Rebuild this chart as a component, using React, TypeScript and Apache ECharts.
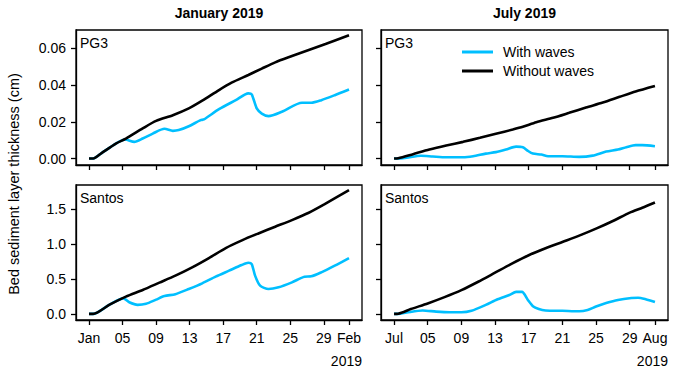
import React, { useEffect, useRef } from 'react';
import * as echarts from 'echarts';

// ---- tick definitions ----
const MONTH_TICK_DAYS = [0, 4, 8, 12, 16, 20, 24, 28, 31];
const JAN_TICK_LABELS = ['Jan', '05', '09', '13', '17', '21', '25', '29', 'Feb'];
const JUL_TICK_LABELS = ['Jul', '05', '09', '13', '17', '21', '25', '29', 'Aug'];
const YEAR_LABEL = '2019';
const COLUMN_TITLES = ['January 2019', 'July 2019'];
const SITE_NAMES = ['PG3', 'Santos'];
const SERIES_NAMES = ['With waves', 'Without waves'];
const PG3_TICKS = [0, 0.02, 0.04, 0.06];
const SANTOS_TICKS = [0, 0.5, 1.0, 1.5];
const Y_LABEL = 'Bed sediment layer thickness (cm)';

// ---- PG3, January ----
const PG3_JAN_WITHOUT_DAYS = [0, 0.5, 1.5, 3.2, 4.4, 6.4, 8, 10, 11.9, 13.5, 15.5, 17, 19, 20.6, 22.2, 24.2, 26.2, 28.2, 31];
const PG3_JAN_WITHOUT = [0, 0, 0.003, 0.0082, 0.0109, 0.0164, 0.0205, 0.0236, 0.0273, 0.0315, 0.0373, 0.0413, 0.0455, 0.049, 0.0524, 0.0558, 0.0591, 0.0624, 0.0671];
const PG3_JAN_WITH_DAYS = [0, 0.5, 1.5, 3.2, 4.3, 5.4, 6.4, 7.6, 9, 10, 10.7, 11.9, 13.3, 13.7, 15.5, 17.5, 19, 19.4, 20, 20.6, 21.4, 23, 25.4, 26.5, 27.7, 29.3, 31];
const PG3_JAN_WITH = [0, 0, 0.003, 0.0082, 0.0104, 0.0091, 0.0109, 0.0136, 0.0162, 0.0151, 0.0155, 0.0176, 0.0209, 0.0213, 0.0269, 0.0318, 0.0355, 0.035, 0.0273, 0.0245, 0.0231, 0.0255, 0.0304, 0.0304, 0.0318, 0.0345, 0.0376];

// ---- PG3, July ----
const PG3_JUL_WITHOUT_DAYS = [0, 0.5, 2.25, 4.2, 6.2, 8.2, 10.2, 12.1, 14.1, 15.3, 16.9, 18.9, 20.8, 22.8, 24.8, 26.8, 28.7, 31];
const PG3_JUL_WITHOUT = [0, 0.0002, 0.0024, 0.0049, 0.0071, 0.0091, 0.0113, 0.0135, 0.0158, 0.0173, 0.0198, 0.0222, 0.0249, 0.0278, 0.0305, 0.0336, 0.0365, 0.0395];
const PG3_JUL_WITH_DAYS = [0, 0.5, 1.5, 3.2, 4.6, 6.2, 8.2, 9.4, 10.9, 12.1, 13.3, 14.5, 15.3, 15.9, 16.5, 17.5, 18.3, 20, 22, 23.6, 25.2, 26.6, 27.6, 28.7, 29.5, 31];
const PG3_JUL_WITH = [0, 0, 0.0005, 0.0015, 0.0011, 0.0007, 0.0007, 0.0013, 0.0027, 0.0035, 0.0049, 0.0065, 0.0062, 0.0042, 0.0027, 0.0022, 0.0013, 0.0013, 0.0009, 0.0016, 0.0038, 0.0049, 0.0062, 0.0073, 0.0073, 0.0067];

// ---- Santos, January ----
const SANTOS_JAN_WITHOUT_DAYS = [0, 0.5, 2.45, 4.4, 6.4, 8.4, 10.3, 12.3, 14.3, 16.3, 18.3, 20.2, 22.2, 24.2, 26.2, 28.1, 31];
const SANTOS_JAN_WITHOUT = [0, 0, 0.133, 0.248, 0.343, 0.448, 0.548, 0.667, 0.8, 0.943, 1.057, 1.152, 1.248, 1.343, 1.448, 1.571, 1.771];
const SANTOS_JAN_WITH_DAYS = [0, 0.5, 2.45, 4.1, 4.8, 5.8, 6.8, 8, 9, 10.3, 11.9, 13.5, 15.1, 16.7, 18.2, 19, 19.4, 19.8, 20.4, 21.4, 22.6, 24.2, 25.7, 26.5, 27.7, 29.3, 31];
const SANTOS_JAN_WITH = [0, 0, 0.133, 0.222, 0.167, 0.13, 0.145, 0.205, 0.255, 0.283, 0.357, 0.438, 0.533, 0.619, 0.7, 0.733, 0.714, 0.548, 0.405, 0.357, 0.381, 0.452, 0.533, 0.538, 0.595, 0.69, 0.8];

// ---- Santos, July ----
const SANTOS_JUL_WITHOUT_DAYS = [0, 0.5, 2, 4, 6, 8, 10, 12, 14, 16, 18, 20, 22, 24, 26, 28, 29.5, 31];
const SANTOS_JUL_WITHOUT = [0, 0.003, 0.07, 0.15, 0.24, 0.34, 0.46, 0.59, 0.72, 0.84, 0.94, 1.03, 1.12, 1.22, 1.33, 1.45, 1.52, 1.595];
const SANTOS_JUL_WITH_DAYS = [0, 0.5, 1.5, 3.4, 5, 6.6, 8, 9.2, 10.9, 12.3, 13.7, 14.5, 15.2, 15.9, 16.5, 17.2, 18, 20, 22, 23, 24, 25.2, 26.6, 28.2, 29, 29.9, 31];
const SANTOS_JUL_WITH = [0, 0, 0.02, 0.05, 0.033, 0.024, 0.024, 0.045, 0.129, 0.21, 0.27, 0.315, 0.315, 0.2, 0.11, 0.07, 0.05, 0.045, 0.038, 0.057, 0.105, 0.155, 0.2, 0.228, 0.232, 0.21, 0.17];

const CYAN = '#00bfff';
const FONT = '"Liberation Sans", Arial, Helvetica, sans-serif';

const zip = (days: number[], vals: number[]) => days.map((d, i) => [d, vals[i]]);

export default function App() {
  const ref = useRef<HTMLDivElement>(null);

  useEffect(() => {
    if (!ref.current) return;
    const chart = echarts.init(ref.current, undefined, { renderer: 'svg' });

    const GW = [286, 287];
    const GL = [76, 381];
    const GT = [30, 185];
    const GH = 135;

    const grids: any[] = [];
    const xAxes: any[] = [];
    const yAxes: any[] = [];
    const series: any[] = [];
    const graphics: any[] = [];

    const panelData = [
      [zip(PG3_JAN_WITH_DAYS, PG3_JAN_WITH), zip(PG3_JAN_WITHOUT_DAYS, PG3_JAN_WITHOUT)],
      [zip(PG3_JUL_WITH_DAYS, PG3_JUL_WITH), zip(PG3_JUL_WITHOUT_DAYS, PG3_JUL_WITHOUT)],
      [zip(SANTOS_JAN_WITH_DAYS, SANTOS_JAN_WITH), zip(SANTOS_JAN_WITHOUT_DAYS, SANTOS_JAN_WITHOUT)],
      [zip(SANTOS_JUL_WITH_DAYS, SANTOS_JUL_WITH), zip(SANTOS_JUL_WITHOUT_DAYS, SANTOS_JUL_WITHOUT)],
    ];

    for (let row = 0; row < 2; row++) {
      for (let col = 0; col < 2; col++) {
        const idx = row * 2 + col;
        grids.push({
          left: GL[col], top: GT[row], width: GW[col], height: GH,
          show: true, borderColor: '#000', borderWidth: 1.3, backgroundColor: 'transparent',
        });
        const tickLabels = col === 0 ? JAN_TICK_LABELS : JUL_TICK_LABELS;
        xAxes.push({
          type: 'value', gridIndex: idx, min: -1.55, max: 32.55,
          axisLine: { show: true, onZero: false, lineStyle: { color: '#000', width: 1.3 } },
          axisTick: { show: true, length: 5, customValues: MONTH_TICK_DAYS, lineStyle: { color: '#000', width: 1.3 } },
          axisLabel: {
            show: row === 1, customValues: MONTH_TICK_DAYS, margin: 11,
            color: '#000', fontSize: 14, fontFamily: FONT,
            formatter: (v: number) => tickLabels[MONTH_TICK_DAYS.indexOf(Math.round(v))] ?? '',
          },
          splitLine: { show: false },
        });
        const isPG3 = row === 0;
        yAxes.push({
          type: 'value', gridIndex: idx,
          min: isPG3 ? -0.0035 : -0.087, max: isPG3 ? 0.0700 : 1.845,
          axisLine: { show: true, onZero: false, lineStyle: { color: '#000', width: 1.3 } },
          axisTick: { show: true, length: 5, customValues: isPG3 ? PG3_TICKS : SANTOS_TICKS, lineStyle: { color: '#000', width: 1.3 } },
          axisLabel: {
            show: col === 0, customValues: isPG3 ? PG3_TICKS : SANTOS_TICKS, margin: 10,
            color: '#000', fontSize: 14, fontFamily: FONT,
            formatter: (v: number) => v.toFixed(isPG3 ? 2 : 1),
          },
          splitLine: { show: false },
        });
        const [withD, withoutD] = panelData[idx];
        series.push({
          type: 'line', name: SERIES_NAMES[0], xAxisIndex: idx, yAxisIndex: idx,
          data: withD, showSymbol: false, symbol: 'none', smooth: 0.25,
          color: CYAN, lineStyle: { color: CYAN, width: 2.6 }, z: 2,
        });
        series.push({
          type: 'line', name: SERIES_NAMES[1], xAxisIndex: idx, yAxisIndex: idx,
          data: withoutD, showSymbol: false, symbol: 'none', smooth: 0.25,
          color: '#000', lineStyle: { color: '#000', width: 2.6 }, z: 3,
        });
        graphics.push({
          type: 'text', left: GL[col] + 4, top: GT[row] + 6,
          style: { text: SITE_NAMES[row], fontSize: 14, fontFamily: FONT, fill: '#000' },
        });
      }
    }

    for (let col = 0; col < 2; col++) {
      graphics.push({
        type: 'text', x: GL[col] + GW[col] / 2, y: 13,
        style: { text: COLUMN_TITLES[col], fontSize: 14, fontWeight: 'bold', fontFamily: FONT, fill: '#000', align: 'center', verticalAlign: 'middle' },
      });
      graphics.push({
        type: 'text', x: GL[col] + GW[col], y: 361,
        style: { text: YEAR_LABEL, fontSize: 14, fontFamily: FONT, fill: '#000', align: 'right', verticalAlign: 'middle' },
      });
    }
    graphics.push({
      type: 'text', x: 14, y: 184, rotation: Math.PI / 2,
      style: { text: Y_LABEL, fontSize: 14.5, fontFamily: FONT, fill: '#000', align: 'center', verticalAlign: 'middle' },
    });

    chart.setOption({
      animation: false,
      backgroundColor: '#fff',
      grid: grids,
      xAxis: xAxes,
      yAxis: yAxes,
      series,
      graphic: graphics,
      legend: {
        data: SERIES_NAMES,
        orient: 'vertical',
        left: 457, top: 40,
        itemWidth: 31, itemHeight: 3, itemGap: 5,
        icon: 'rect',
        textStyle: { fontSize: 14, fontFamily: FONT, color: '#000', lineHeight: 14, padding: [0, 0, 0, 5] },
      },
    });

    return () => chart.dispose();
  }, []);

  return <div ref={ref} style={{ position: 'fixed', left: 0, top: 0, width: 675, height: 375 }} />;
}
